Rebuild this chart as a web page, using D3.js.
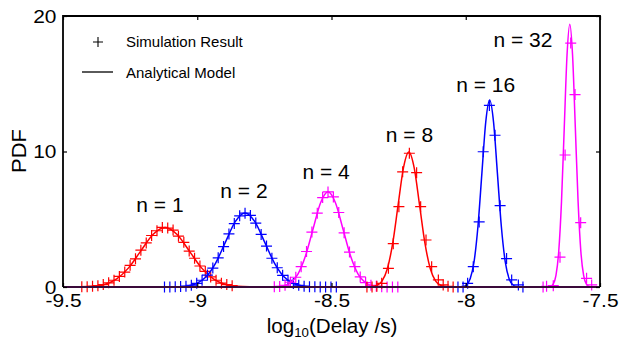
<!DOCTYPE html>
<html><head><meta charset="utf-8">
<script src="https://cdn.jsdelivr.net/npm/d3@7"></script>
<style>body{margin:0;background:#fff}svg{display:block}text{font-family:"Liberation Sans",Arial,Helvetica,sans-serif;fill:#000}</style>
</head><body><svg id="c" width="619" height="338"></svg>
<script>
// ---- data ----
const xTicks=[-9.5,-9,-8.5,-8,-7.5];
const xTickLabels=["-9.5","-9","-8.5","-8","-7.5"];
const yTicks=[0,10,20];
const yTickLabels=["0","10","20"];
const seriesNames=["n = 1","n = 2","n = 4","n = 8","n = 16","n = 32"];
const seriesColors=["#ff0000","#0000ff","#ff00ff","#ff0000","#0000ff","#ff00ff"];

// analytical model curves (log10 delay, PDF)
const model1X=[-9.5,-9.48,-9.435,-9.39,-9.345,-9.30,-9.255,-9.21,-9.165,-9.12,-9.075,-9.03,-8.985,-8.94,-8.895,-8.85,-8.805,-8.76,-7.5];
const model1Y=[0,0.001,0.01,0.05,0.19,0.60,1.43,2.67,3.88,4.40,3.88,2.67,1.43,0.60,0.19,0.05,0.01,0.001,0];
const model2X=[-9.5,-9.114,-9.0775,-9.041,-9.0045,-8.968,-8.9315,-8.895,-8.8585,-8.822,-8.7855,-8.749,-8.7125,-8.676,-8.6395,-8.603,-8.5665,-8.53,-7.5];
const model2Y=[0,0.002,0.012,0.061,0.24,0.74,1.77,3.31,4.82,5.46,4.82,3.31,1.77,0.74,0.24,0.061,0.012,0.002,0];
const model3X=[-9.5,-8.737,-8.709,-8.681,-8.653,-8.625,-8.597,-8.569,-8.541,-8.513,-8.485,-8.457,-8.429,-8.401,-8.373,-8.345,-8.317,-8.289,-7.5];
const model3Y=[0,0.002,0.015,0.078,0.31,0.95,2.28,4.26,6.20,7.03,6.20,4.26,2.28,0.95,0.31,0.078,0.015,0.002,0];
const model4X=[-9.5,-8.372,-8.352,-8.332,-8.312,-8.292,-8.272,-8.252,-8.232,-8.212,-8.192,-8.172,-8.152,-8.132,-8.112,-8.092,-8.072,-8.052,-7.5];
const model4Y=[0,0.003,0.022,0.11,0.44,1.35,3.23,6.04,8.79,9.96,8.79,6.04,3.23,1.35,0.44,0.11,0.022,0.003,0];
const model5X=[-9.5,-8.027,-8.0125,-7.998,-7.9835,-7.969,-7.9545,-7.94,-7.9255,-7.911,-7.8965,-7.882,-7.8675,-7.853,-7.8385,-7.824,-7.8095,-7.795,-7.5];
const model5Y=[0,0.004,0.03,0.15,0.61,1.87,4.48,8.37,12.18,13.8,12.18,8.37,4.48,1.87,0.61,0.15,0.03,0.004,0];
const model6X=[-9.5,-7.695,-7.6846,-7.6743,-7.664,-7.6537,-7.6434,-7.6331,-7.6228,-7.6125,-7.6022,-7.5919,-7.5816,-7.5713,-7.561,-7.5507,-7.5404,-7.53,-7.5];
const model6Y=[0,0.006,0.043,0.21,0.85,2.62,6.30,11.77,17.12,19.4,17.12,11.77,6.30,2.62,0.85,0.21,0.043,0.006,0];

// simulation results
const sim1X=[-9.43,-9.41,-9.39,-9.37,-9.35,-9.33,-9.31,-9.29,-9.27,-9.25,-9.23,-9.21,-9.19,-9.17,-9.15,-9.13,-9.11,-9.09,-9.07,-9.05,-9.03,-9.01,-8.99,-8.97,-8.95,-8.93,-8.91,-8.89,-8.87];
const sim1Y=[0.01,0.02,0.05,0.10,0.18,0.31,0.50,0.78,1.10,1.60,2.08,2.72,3.25,3.80,4.15,4.40,4.35,4.20,3.75,3.30,2.65,2.12,1.55,1.15,0.74,0.50,0.28,0.18,0.10];
const sim2X=[-9.122,-9.102,-9.082,-9.062,-9.042,-9.022,-9.002,-8.982,-8.962,-8.942,-8.922,-8.902,-8.882,-8.862,-8.842,-8.822,-8.802,-8.782,-8.762,-8.742,-8.722,-8.702,-8.682,-8.662,-8.642,-8.622,-8.602,-8.582,-8.562,-8.542,-8.522,-8.502,-8.482];
const sim2Y=[0,0,0.01,0.03,0.06,0.13,0.27,0.50,0.88,1.40,2.15,2.98,3.92,4.68,5.25,5.45,5.28,4.72,3.88,3.02,2.12,1.42,0.86,0.50,0.26,0.13,0.06,0.02,0.01,0,0,0,0];
const sim3X=[-8.713,-8.693,-8.673,-8.653,-8.633,-8.613,-8.593,-8.573,-8.553,-8.533,-8.513,-8.493,-8.473,-8.453,-8.433,-8.413,-8.393,-8.373,-8.353,-8.333,-8.313,-8.293,-8.273,-8.253];
const sim3Y=[0.01,0.04,0.13,0.35,0.72,1.50,2.62,4.05,5.45,6.60,7.02,6.65,5.50,4.00,2.58,1.50,0.74,0.33,0.13,0.05,0.01,0,0,0];
const sim4X=[-8.368,-8.349,-8.331,-8.313,-8.288,-8.270,-8.249,-8.235,-8.210,-8.183,-8.168,-8.148,-8.127,-8.102,-8.084,-8.066,-8.047];
const sim4Y=[0,0,0.05,0.27,1.38,3.2,5.93,8.5,9.87,8.44,5.93,3.47,1.5,0.52,0.15,0.05,0];
const sim5X=[-8.029,-8.010,-7.993,-7.972,-7.950,-7.935,-7.912,-7.891,-7.872,-7.848,-7.829,-7.804,-7.787];
const sim5Y=[0,0,0.27,1.5,4.8,9.98,13.4,11.2,6.0,2.1,0.52,0.15,0];
const sim6X=[-7.712,-7.699,-7.674,-7.649,-7.630,-7.609,-7.593,-7.572,-7.550,-7.531];
const sim6Y=[0,0.05,0.1,2.2,9.74,18.0,14.2,4.75,0.64,0.15];

// annotation anchors (data coordinates)
const labelX=[-9.139,-8.826,-8.52,-8.2095,-7.926,-7.787];
const labelY=[5.54,6.57,7.97,10.7,14.39,17.71];

const legendLabels=["Simulation Result","Analytical Model"];

// ---- chart ----
const models=[[model1X,model1Y],[model2X,model2Y],[model3X,model3Y],[model4X,model4Y],[model5X,model5Y],[model6X,model6Y]];
const sims=[[sim1X,sim1Y],[sim2X,sim2Y],[sim3X,sim3Y],[sim4X,sim4Y],[sim5X,sim5Y],[sim6X,sim6Y]];

const L=63,R=600,T=16,B=287;
const svg=d3.select("#c");
const x=d3.scaleLinear().domain([-9.5,-7.5]).range([L,R]);
const y=d3.scaleLinear().domain([0,20]).range([B,T]);

const line=d3.line().x(d=>x(d[0])).y(d=>y(d[1])).curve(d3.curveMonotoneX);
const plus="M-5.5,0H5.5M0,-5.5V5.5";

seriesNames.forEach((name,i)=>{
  const col=seriesColors[i];
  const mpts=models[i][0].map((v,j)=>[v,models[i][1][j]]);
  svg.append("path").attr("d",line(mpts)).attr("fill","none").attr("stroke",col).attr("stroke-width",1.5);
  const spts=sims[i][0].map((v,j)=>[v,sims[i][1][j]]);
  svg.append("g").selectAll("path").data(spts).join("path")
    .attr("transform",d=>`translate(${x(d[0])},${y(d[1])})`)
    .attr("d",plus).attr("stroke",col).attr("stroke-width",1.2).attr("fill","none");
  svg.append("text")
    .attr("transform",`translate(${x(labelX[i])},${y(labelY[i])}) scale(1.05,1)`)
    .attr("text-anchor","middle").attr("font-size",20).text(name);
});

// frame
svg.append("line").attr("x1",L).attr("x2",R).attr("y1",B).attr("y2",B).attr("stroke","#3a0a3a").attr("stroke-width",2);
svg.append("path").attr("d",`M${L},${B}V${T}H${R}V${B}`).attr("fill","none").attr("stroke","#000").attr("stroke-width",1.8);

// axes
const xa=svg.append("g").attr("transform",`translate(0,${B})`)
  .call(d3.axisBottom(x).tickValues(xTicks).tickSizeInner(-4).tickSizeOuter(0).tickPadding(6.5).tickFormat((d,i)=>xTickLabels[i]));
const xt=svg.append("g").attr("transform",`translate(0,${T})`)
  .call(d3.axisTop(x).tickValues(xTicks).tickSizeInner(-4).tickSizeOuter(0).tickFormat(""));
const ya=svg.append("g").attr("transform",`translate(${L},0)`)
  .call(d3.axisLeft(y).tickValues(yTicks).tickSizeInner(-4).tickSizeOuter(0).tickPadding(6).tickFormat((d,i)=>yTickLabels[i]));
const yr=svg.append("g").attr("transform",`translate(${R},0)`)
  .call(d3.axisRight(y).tickValues(yTicks).tickSizeInner(-4).tickSizeOuter(0).tickFormat(""));
[xa,xt,ya,yr].forEach(g=>{g.select(".domain").remove();g.selectAll("line").attr("stroke","#000").attr("stroke-width",1.2);});
[xa,ya].forEach(g=>g.selectAll("text").attr("font-size",19).attr("font-family","'Liberation Sans',Arial,sans-serif").attr("fill","#000").attr("transform","scale(1.1,1)"));

// axis titles
const xt2=svg.append("text").attr("x",0).attr("y",0).attr("transform","translate(332,333) scale(1.06,1)").attr("text-anchor","middle").attr("font-size",19.5);
xt2.append("tspan").text("log");
xt2.append("tspan").attr("font-size",12.5).attr("dy",4).text("10");
xt2.append("tspan").attr("dy",-4).text("(Delay /s)");
svg.append("text").attr("transform","translate(25.5,151) rotate(-90) scale(1.05,1)").attr("text-anchor","middle").attr("font-size",21).text("PDF");

// legend
svg.append("path").attr("transform","translate(98,42)").attr("d","M-5,0H5M0,-5V5").attr("stroke","#000").attr("stroke-width",1.1);
svg.append("line").attr("x1",82).attr("x2",113).attr("y1",72).attr("y2",72).attr("stroke","#000").attr("stroke-width",1.3);
svg.append("text").attr("x",126).attr("y",47).attr("font-size",15).text(legendLabels[0]);
svg.append("text").attr("x",126).attr("y",78).attr("font-size",15).text(legendLabels[1]);
</script></body></html>
